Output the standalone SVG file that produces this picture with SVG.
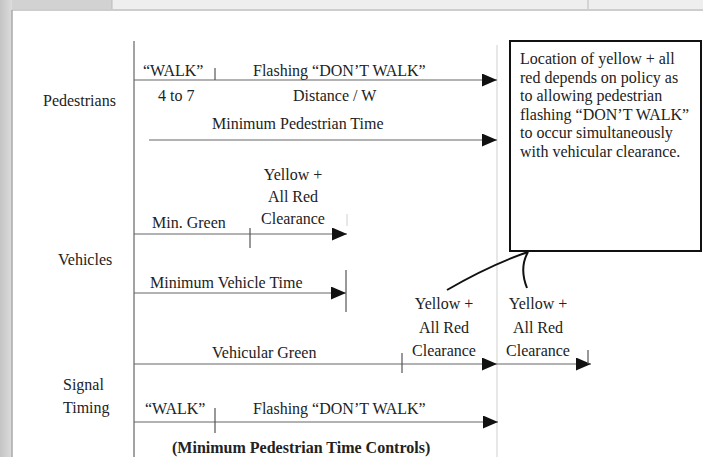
<svg xmlns="http://www.w3.org/2000/svg" width="703" height="457" viewBox="0 0 703 457">
<defs>
<style>
text{font-family:"Liberation Serif","Times New Roman",serif;font-size:16px;fill:#222}
.b{font-weight:bold}
.m{text-anchor:middle}
.ln{stroke:#666;stroke-width:1.2;fill:none}
.tk{stroke:#555;stroke-width:1.2;fill:none}
.gd{stroke:#d0d0d0;stroke-width:1;fill:none}
.cv{stroke:#111;stroke-width:2;fill:none}
</style>
<marker id="ah" markerUnits="userSpaceOnUse" markerWidth="15" markerHeight="13" refX="15" refY="6.5" orient="auto">
<path d="M0,0 L15,6.5 L0,13 z" fill="#111"/>
</marker>
<linearGradient id="lg" x1="0" y1="0" x2="1" y2="0">
<stop offset="0" stop-color="#c4c4c4"/>
<stop offset="1" stop-color="#dcdcdc"/>
</linearGradient>
</defs>
<rect width="703" height="457" fill="#fff"/>
<g id="scan-edge">
<rect x="0" y="0" width="703" height="9" fill="#eeeeee"/>
<rect x="0" y="0" width="112" height="9" fill="#d2d2d2"/>
<rect x="0" y="0" width="12" height="457" fill="url(#lg)"/>
<line x1="12" y1="10" x2="703" y2="10" stroke="#bdbdbd" stroke-width="1.5"/>
<line x1="12" y1="10" x2="12" y2="457" stroke="#aaa" stroke-width="1.5"/>
<line x1="112" y1="0" x2="112" y2="9" stroke="#bbb"/>
<line x1="588" y1="0" x2="588" y2="9" stroke="#bbb"/>
</g>
<g id="connectors">
<line class="ln" x1="134" y1="41" x2="134" y2="457"/>
<line class="gd" x1="497" y1="45" x2="497" y2="457"/>
<line class="ln" x1="134" y1="80" x2="497" y2="80" marker-end="url(#ah)"/>
<line class="tk" x1="215" y1="68" x2="215" y2="80"/>
<line class="ln" x1="149" y1="140" x2="497" y2="140" marker-end="url(#ah)"/>
<line class="ln" x1="134" y1="234" x2="347" y2="234" marker-end="url(#ah)"/>
<line class="tk" x1="250" y1="228" x2="250" y2="248"/>
<line class="gd" x1="347" y1="214" x2="347" y2="226"/>
<line class="ln" x1="134" y1="293" x2="346" y2="293" marker-end="url(#ah)"/>
<line class="tk" x1="346" y1="270" x2="346" y2="312" stroke="#222" stroke-width="1.5"/>
<line class="ln" x1="134" y1="364" x2="497" y2="364" marker-end="url(#ah)"/>
<line class="tk" x1="402" y1="353" x2="402" y2="373"/>
<line class="ln" x1="497" y1="364" x2="591" y2="364" marker-end="url(#ah)"/>
<line class="tk" x1="588" y1="350" x2="588" y2="364"/>
<line class="ln" x1="134" y1="422" x2="498" y2="422" marker-end="url(#ah)"/>
<line class="tk" x1="215" y1="408" x2="215" y2="433"/>
<path class="cv" d="M528,252 Q490,265 447,290"/>
<path class="cv" d="M528,252 Q519,268 527,288"/>
</g>
<g id="labels-left">
<text x="43" y="106">Pedestrians</text>
<text x="58" y="265">Vehicles</text>
<text x="63" y="390">Signal</text>
<text x="63" y="413">Timing</text>
</g>
<g id="pedestrians">
<text x="143" y="76">“WALK”</text>
<text x="253" y="76">Flashing “DON’T WALK”</text>
<text x="158" y="101">4 to 7</text>
<text x="293" y="101">Distance / W</text>
<text x="212" y="129">Minimum Pedestrian Time</text>
</g>
<g id="vehicles">
<text class="m" x="293" y="180">Yellow +</text>
<text class="m" x="293" y="202">All Red</text>
<text class="m" x="293" y="224">Clearance</text>
<text x="152" y="228">Min. Green</text>
<text x="150" y="288">Minimum Vehicle Time</text>
<text x="212" y="358">Vehicular Green</text>
<text class="m" x="444" y="309">Yellow +</text>
<text class="m" x="444" y="333">All Red</text>
<text class="m" x="444" y="356">Clearance</text>
<text class="m" x="538" y="309">Yellow +</text>
<text class="m" x="538" y="333">All Red</text>
<text class="m" x="538" y="356">Clearance</text>
</g>
<g id="signal-timing">
<text x="145" y="414">“WALK”</text>
<text x="253" y="414">Flashing “DON’T WALK”</text>
<text class="b" x="172" y="453">(Minimum Pedestrian Time Controls)</text>
</g>
<g id="note">
<rect x="510" y="41" width="191" height="210" fill="#fff" stroke="#111" stroke-width="2"/>
<text x="520" y="64">Location of yellow + all</text>
<text x="520" y="82.5">red depends on policy as</text>
<text x="520" y="101">to allowing pedestrian</text>
<text x="520" y="119.5">flashing “DON’T WALK”</text>
<text x="520" y="138">to occur simultaneously</text>
<text x="520" y="156.5">with vehicular clearance.</text>
</g>
</svg>
